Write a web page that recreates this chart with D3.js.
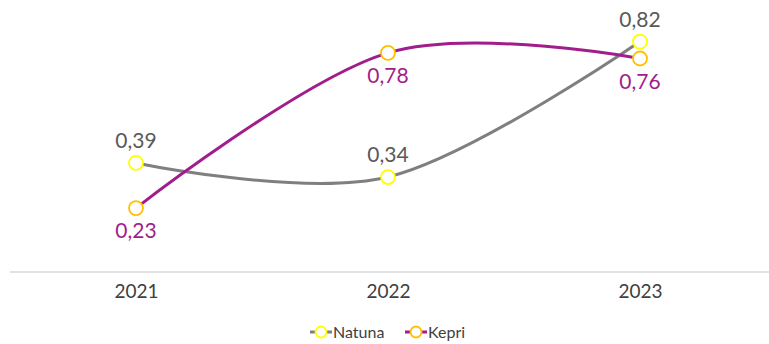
<!DOCTYPE html>
<html>
<head>
<meta charset="utf-8">
<script src="https://cdn.jsdelivr.net/npm/d3@7"></script>
<style>
  html, body { margin: 0; padding: 0; background: #fff; }
  svg { display: block; font-family: Lato, "Open Sans", sans-serif; }
</style>
</head>
<body>
<svg id="chart" width="769" height="344"></svg>
<script>
const years = ["2021", "2022", "2023"];
const natuna = [0.39, 0.34, 0.82];
const kepri = [0.23, 0.78, 0.76];
const seriesNames = ["Natuna", "Kepri"];

const fmt = v => d3.format(".2f")(v).replace(".", ",");

const svg = d3.select("#chart");

const x = d3.scalePoint().domain(years).range([136, 640]);
const y = d3.scaleLinear().domain([0, 0.9]).range([273, 19]);

// baseline axis
svg.append("line")
  .attr("x1", 10).attr("x2", 769)
  .attr("y1", 272).attr("y2", 272)
  .attr("stroke", "#d9d9d9").attr("stroke-width", 1.5);

const xAxis = svg.append("g")
  .attr("transform", "translate(0,272)")
  .call(d3.axisBottom(x).tickSize(0).tickPadding(13));
xAxis.select(".domain").remove();
xAxis.selectAll("text")
  .attr("font-size", 19).attr("fill", "#404040")
  .attr("font-family", "Lato, 'Open Sans', sans-serif");

const series = [
  { name: seriesNames[0], values: natuna, line: "#7f7f7f", marker: "#ffff00", label: "#595959", pos: "above" },
  { name: seriesNames[1], values: kepri, line: "#a21d8c", marker: "#ffc000", label: "#a21d8c", pos: "below" }
];

const lineGen = d3.line()
  .x((d, i) => x(years[i]))
  .y(d => y(d))
  .curve(d3.curveCardinal.tension(0));

series.forEach(s => {
  svg.append("path")
    .datum(s.values)
    .attr("d", lineGen)
    .attr("fill", "none")
    .attr("stroke", s.line)
    .attr("stroke-width", 3);
});

series.forEach(s => {
  svg.append("g").selectAll("circle")
    .data(s.values)
    .join("circle")
    .attr("cx", (d, i) => x(years[i]))
    .attr("cy", d => y(d))
    .attr("r", 7)
    .attr("fill", "#fff")
    .attr("stroke", s.marker)
    .attr("stroke-width", 1.8);

  svg.append("g").selectAll("text")
    .data(s.values)
    .join("text")
    .attr("x", (d, i) => x(years[i]))
    .attr("y", d => s.pos === "above" ? y(d) - 15 : y(d) + 30)
    .attr("text-anchor", "middle")
    .attr("font-size", 21)
    .attr("fill", s.label)
    .text(d => fmt(d));
});

// legend
const legend = svg.append("g").attr("transform", "translate(0,332)");
const legendItems = [
  { s: series[0], x0: 310, tx: 333 },
  { s: series[1], x0: 405, tx: 428 }
];
legendItems.forEach(it => {
  legend.append("line")
    .attr("x1", it.x0).attr("x2", it.x0 + 22)
    .attr("y1", 0).attr("y2", 0)
    .attr("stroke", it.s.line).attr("stroke-width", 3);
  legend.append("circle")
    .attr("cx", it.x0 + 11).attr("cy", 0).attr("r", 5.5)
    .attr("fill", "#fff").attr("stroke", it.s.marker).attr("stroke-width", 1.8);
  legend.append("text")
    .attr("x", it.tx).attr("y", 6)
    .attr("font-size", 16).attr("fill", "#404040")
    .text(it.s.name);
});
</script>
</body>
</html>
